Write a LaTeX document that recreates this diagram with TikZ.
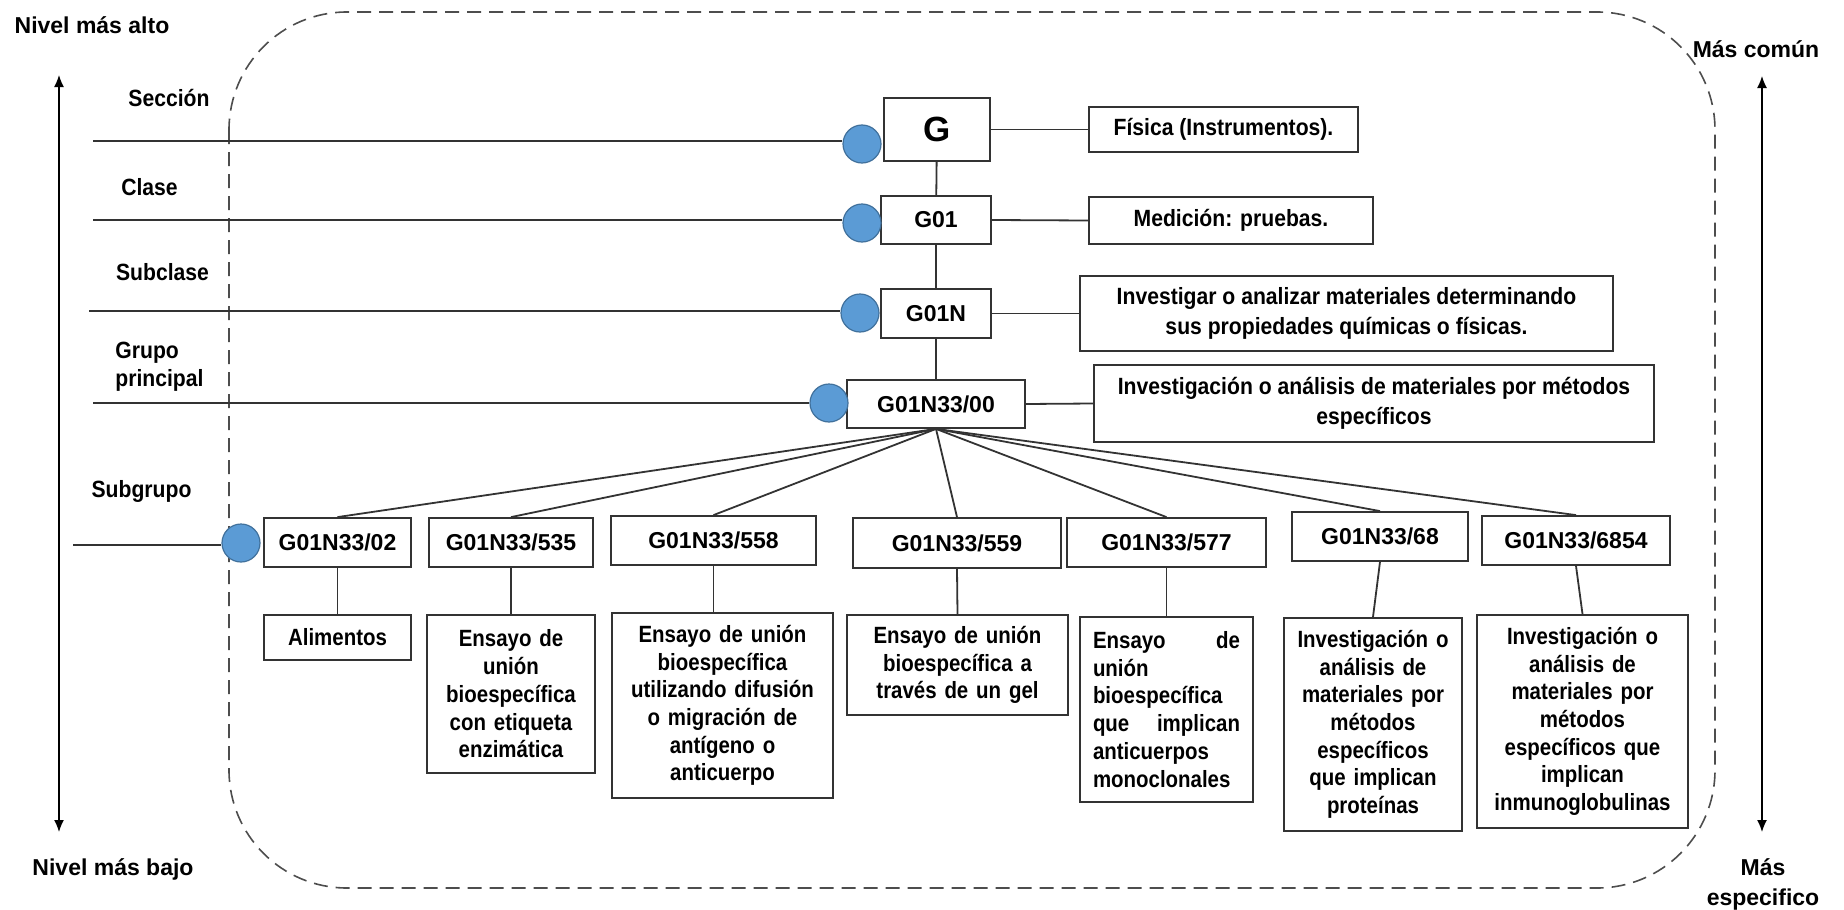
\documentclass[tikz,border=0pt]{standalone}
\usepackage{fontspec}
\setmainfont{Liberation Sans}
\newfontfamily\descfamily{Liberation Sans}[FakeStretch=0.9]
\newfontfamily\leaffamily{Liberation Sans}[FakeStretch=0.87]
\usetikzlibrary{arrows.meta}
\definecolor{dotblue}{HTML}{5B9BD5}
\definecolor{dotedge}{HTML}{41719C}
\definecolor{ink}{HTML}{333333}
\definecolor{frame}{HTML}{4D4D4D}

\begin{document}
\begin{tikzpicture}[x=0.5pt,y=-0.5pt,
  wire/.style={draw=ink, line width=0.9pt},
  code/.style={draw=ink, line width=0.9pt, inner sep=0pt,
    font=\bfseries\fontsize{11.5pt}{13pt}\selectfont},
  info/.style={draw=ink, line width=0.9pt, inner sep=0pt, align=center,
    font=\descfamily\bfseries\fontsize{11.75pt}{15pt}\selectfont},
  leaf/.style={draw=ink, line width=0.9pt, inner ysep=0pt, inner xsep=3pt,
    align=center, anchor=north,
    font=\leaffamily\bfseries\fontsize{11.75pt}{13.85pt}\selectfont},
  tier/.style={inner sep=0pt, anchor=base,
    font=\descfamily\bfseries\fontsize{11.75pt}{14pt}\selectfont},
  corner/.style={inner sep=0pt, anchor=base,
    font=\bfseries\fontsize{11.5pt}{15pt}\selectfont},
  hub/.style={circle, fill=dotblue, draw=dotedge, line width=0.6pt,
    minimum size=19pt, inner sep=0pt},
  axis/.style={draw=black, line width=0.7pt, {Latex[length=6pt,width=5pt]}-{Latex[length=6pt,width=5pt]}},
]
\useasboundingbox (0,0) rectangle (1844,910);

% dashed frame around the classification
\draw[frame, line width=0.8pt, dash pattern=on 7pt off 4pt, rounded corners=59pt]
  (229,12) rectangle (1715,888);

% side captions and level arrows
\node[corner] (top) at (92,33) {Nivel más alto};
\node[corner] (bottom) at (113,875) {Nivel más bajo};
\node[corner] (common) at (1756,57) {Más común};
\node[corner, align=center, anchor=north] (specific) at (1763,858) {Más\\especifico};
\coordinate (lt) at (59,75);
\coordinate (lb) at (59,832);
\coordinate (rt) at (1762,76);
\coordinate (rb) at (1762,832);
\draw[axis] (lt) -- (lb);
\draw[axis] (rt) -- (rb);

% level names
\node[tier] (lsec) at (169,106) {Sección};
\node[tier] (lcla) at (149.5,195) {Clase};
\node[tier] (lsub) at (162.5,280) {Subclase};
\node[tier, align=left, anchor=north west] (lgrp) at (115,342) {Grupo\\principal};
\node[tier] (lsgr) at (141.5,497) {Subgrupo};

% hierarchy codes
\node[code, minimum width=53pt, minimum height=31.5pt,
  font=\bfseries\fontsize{17.5pt}{20pt}\selectfont] (g1) at (937,129.5) {G};
\node[code, minimum width=55pt, minimum height=24pt] (g2) at (936,220) {G01};
\node[code, minimum width=55pt, minimum height=24.5pt] (g3) at (936,313.5) {G01N};
\node[code, minimum width=89pt, minimum height=24pt] (g4) at (936,404) {G01N33/00};

% level markers
\node[hub] (p1) at (862,144) {};
\node[hub] (p2) at (862,223) {};
\node[hub] (p3) at (860,313) {};
\node[hub] (p4) at (829,403) {};
\node[hub] (p5) at (241,543) {};

% descriptions on the right
\node[info, minimum width=134.5pt, minimum height=22.5pt] (i1) at (1223.5,129.5) {Física (Instrumentos).};
\node[info, minimum width=142pt, minimum height=23.5pt] (i2) at (1231,220.5) {Medición: pruebas.};
\node[info, minimum width=266.5pt, minimum height=37.5pt] (i3) at (1346.5,313.5)
  {Investigar o analizar materiales determinando\\sus propiedades químicas o físicas.};
\node[info, minimum width=280pt, minimum height=38.5pt] (i4) at (1374,403.5)
  {Investigación o análisis de materiales por métodos\\específicos};

% subgroup codes
\node[code, minimum width=73.5pt, minimum height=24.5pt] (c02) at (337.5,542.5) {G01N33/02};
\node[code, minimum width=82pt, minimum height=24.5pt] (c535) at (511,542.5) {G01N33/535};
\node[code, minimum width=102.5pt, minimum height=24.5pt] (c558) at (713.5,540.5) {G01N33/558};
\node[code, minimum width=104pt, minimum height=25pt] (c559) at (957,543) {G01N33/559};
\node[code, minimum width=99.5pt, minimum height=24.5pt] (c577) at (1166.5,542.5) {G01N33/577};
\node[code, minimum width=88pt, minimum height=24.5pt] (c68) at (1380,536.5) {G01N33/68};
\node[code, minimum width=94pt, minimum height=24.5pt] (c6854) at (1576,540.5) {G01N33/6854};

% subgroup descriptions
\node[leaf, text width=67.5pt, minimum height=22.5pt] (d02) at (337.5,614) {Alimentos};
\node[leaf, text width=78pt, minimum height=79pt] (d535) at (511,614)
  {Ensayo de\\unión\\bioespecífica\\con etiqueta\\enzimática};
\node[leaf, text width=104.5pt, minimum height=92.5pt] (d558) at (722.5,612)
  {Ensayo de unión\\bioespecífica\\utilizando difusión\\o migración de\\antígeno o\\anticuerpo};
\node[leaf, text width=104.5pt, minimum height=50pt] (d559) at (957.5,614)
  {Ensayo de unión\\bioespecífica a\\través de un gel};
\node[leaf, align=left, inner xsep=6.5pt, text width=73.5pt, minimum height=92.5pt] (d577) at (1166.5,616)
  {\makebox[73.5pt][l]{Ensayo\hfill de}\\unión\\bioespecífica\\\makebox[73.5pt][l]{que\hfill implican}\\anticuerpos\\monoclonales};
\node[leaf, text width=83pt, minimum height=106.5pt] (d68) at (1373,617)
  {Investigación o\\análisis de\\materiales por\\métodos\\específicos\\que implican\\proteínas};
\node[leaf, text width=99.5pt, minimum height=106.5pt] (d6854) at (1582.5,614)
  {Investigación o\\análisis de\\materiales por\\métodos\\específicos que\\implican\\inmunoglobulinas};

% guide lines from the level names to the markers
\coordinate (s1) at (93,141);
\coordinate (s2) at (93,220);
\coordinate (s3) at (89,311);
\coordinate (s4) at (93,403);
\coordinate (s5) at (73,545);
\draw[wire] (s1) -- (s1 -| p1.west);
\draw[wire] (s2) -- (s2 -| p2.west);
\draw[wire] (s3) -- (s3 -| p3.west);
\draw[wire] (s4) -- (s4 -| p4.west);
\draw[wire] (s5) -- (s5 -| p5.west);

% main chain
\draw[wire] (g1) -- (g2);
\draw[wire] (g2) -- (g3);
\draw[wire] (g3) -- (g4);
\draw[wire] (g1.east) -- (i1.west);
\draw[wire] (g2.east) -- (i2.west);
\draw[wire] (g3.east) -- (i3.west);
\draw[wire] (g4.east) -- (i4.west);

% fan to the subgroups
\foreach \c in {c02,c535,c558,c559,c577,c68,c6854}
  \draw[wire] (g4.south) -- (\c.north);

% subgroup to description
\draw[wire] (c02.south) -- (d02.north);
\draw[wire] (c535.south) -- (d535.north);
\draw[wire] (c558.south) -- (c558.south |- d558.north);
\draw[wire] (c559.south) -- (d559.north);
\draw[wire] (c577.south) -- (d577.north);
\draw[wire] (c68.south) -- (d68.north);
\draw[wire] (c6854.south) -- (d6854.north);
\end{tikzpicture}
\end{document}
